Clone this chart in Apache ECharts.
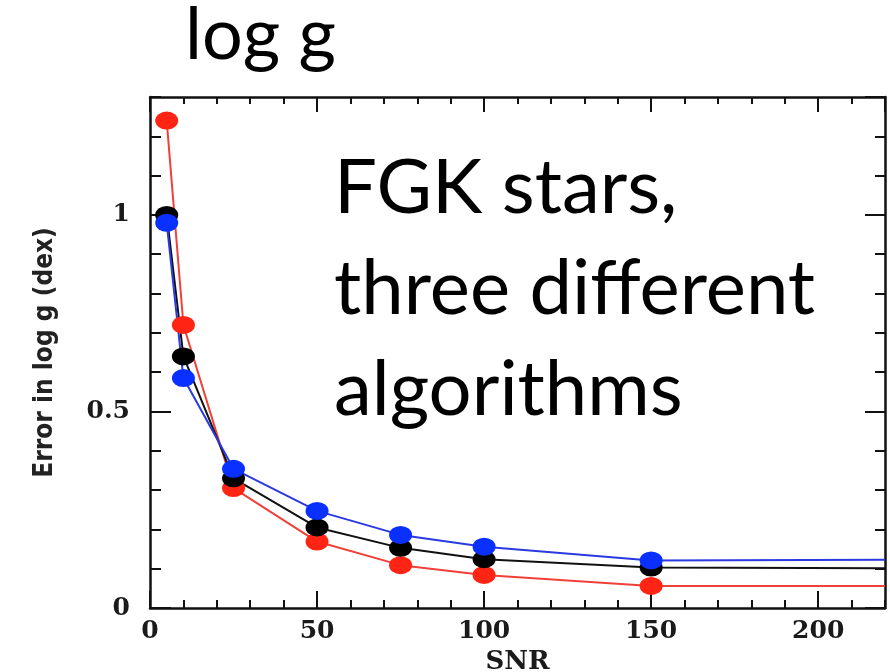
<!DOCTYPE html>
<html>
<head>
<meta charset="utf-8">
<style>
  html, body { margin: 0; padding: 0; background: #ffffff; overflow: hidden; }
  #chart { width: 890px; height: 672px; }
</style>
<script src="https://cdn.jsdelivr.net/npm/echarts@6/dist/echarts.min.js"></script>
</head>
<body>
<div id="chart"></div>
<script>
// ---- data ----
var snr = [5, 10, 25, 50, 75, 100, 150];
var tailSNR = 220; // flat continuation to the right edge
var errBlack = [1.00, 0.64, 0.33, 0.205, 0.153, 0.124, 0.103];
var errRed   = [1.24, 0.72, 0.305, 0.169, 0.109, 0.084, 0.056];
var errBlue  = [0.98, 0.585, 0.354, 0.247, 0.186, 0.156, 0.121];
var tailBlack = 0.101;
var tailRed = 0.056;
var tailBlue = 0.123;

var xMax = 220, xMajor = 50, xMinor = 10;
var yMax = 1.3, yMajor = 0.5, yMinor = 0.1;

var titleText = 'log g';
var noteLines = ['FGK stars,', 'three different', 'algorithms'];
var xName = 'SNR';
var yName = 'Error in log g (dex)';
var peekGlyphs = ['l', '/', 'l'];

// ---- build ----
function pts(ys, tail) {
  var d = snr.map(function (x, i) { return [x, ys[i]]; });
  d.push({ value: [tailSNR, tail], symbol: 'none' });
  return d;
}

var labelFont = { fontFamily: 'DejaVu Serif', fontWeight: 'bold', fontSize: 25, color: '#1a1a1a' };
var frameLine = { lineStyle: { color: '#111', width: 2.5 } };

function xAx(pos, tickLen, interval, showLine, showLabel) {
  return {
    type: 'value', position: pos, min: 0, max: xMax, interval: interval,
    axisLine: { show: showLine, onZero: false, lineStyle: frameLine.lineStyle },
    axisTick: { show: true, inside: true, length: tickLen, lineStyle: { color: '#111', width: 2 } },
    axisLabel: showLabel ? Object.assign({ show: true, margin: 11, showMaxLabel: false }, labelFont) : { show: false },
    splitLine: { show: false }
  };
}
function yAx(pos, tickLen, interval, showLine, showLabel) {
  return {
    type: 'value', position: pos, min: 0, max: yMax, interval: interval,
    axisLine: { show: showLine, onZero: false, lineStyle: frameLine.lineStyle },
    axisTick: { show: true, inside: true, length: tickLen, lineStyle: { color: '#111', width: 2 } },
    axisLabel: showLabel ? Object.assign({ show: true, margin: 20, showMaxLabel: false }, labelFont) : { show: false },
    splitLine: { show: false }
  };
}

var xAxes = [
  xAx('bottom', 17, xMajor, true, true),
  xAx('bottom', 8, xMinor, false, false),
  xAx('top', 15, xMajor, true, false),
  xAx('top', 7, xMinor, false, false)
];
xAxes[0].name = xName;
xAxes[0].nameLocation = 'middle';
xAxes[0].nameGap = 40;
xAxes[0].nameTextStyle = { fontFamily: 'DejaVu Serif', fontWeight: 'bold', fontSize: 26, color: '#1a1a1a' };

var yAxes = [
  yAx('left', 21, yMajor, true, true),
  yAx('left', 11, yMinor, false, false),
  yAx('right', 20, yMajor, true, false),
  yAx('right', 10, yMinor, false, false)
];
yAxes[0].name = yName;
yAxes[0].nameLocation = 'middle';
yAxes[0].nameGap = 92;
yAxes[0].nameTextStyle = { fontFamily: "'Liberation Sans Narrow', 'DejaVu Sans Condensed', sans-serif", fontWeight: 'bold', fontSize: 26, color: '#222' };

function series(name, ys, tail, color, lineColor) {
  return {
    name: name, type: 'line', xAxisIndex: 0, yAxisIndex: 0,
    data: pts(ys, tail),
    symbol: 'circle', symbolSize: [23, 18],
    itemStyle: { color: color },
    lineStyle: { color: lineColor, width: 2 },
    clip: false, animation: false
  };
}

var textFont = 'Lato, "Open Sans", sans-serif';
var graphics = [
  { type: 'text', left: 185, top: 0, style: { text: titleText, font: '72px ' + textFont, fill: '#000' } }
];
noteLines.forEach(function (t, i) {
  graphics.push({ type: 'text', left: 334, top: 150 + i * 101, style: { text: t, font: '76px ' + textFont, fill: '#000' } });
});
var peekX = [184, 266, 364];
peekGlyphs.forEach(function (g, i) {
  graphics.push({ type: 'text', x: peekX[i], y: 712, silent: true,
    style: { text: g, font: 'bold 72px ' + textFont, fill: '#000', verticalAlign: 'middle', align: 'left' } });
});

var chart = echarts.init(document.getElementById('chart'), null, { renderer: 'canvas' });
chart.setOption({
  backgroundColor: '#ffffff',
  animation: false,
  grid: { left: 150, right: 5, top: 97, bottom: 64, containLabel: false, outerBoundsMode: 'none' },
  xAxis: xAxes,
  yAxis: yAxes,
  series: [
    series('red', errRed, tailRed, '#ff2414', '#f0403a'),
    series('black', errBlack, tailBlack, '#000000', '#111111'),
    series('blue', errBlue, tailBlue, '#0a30ff', '#2a3ae0')
  ],
  graphic: graphics
});
</script>
</body>
</html>
